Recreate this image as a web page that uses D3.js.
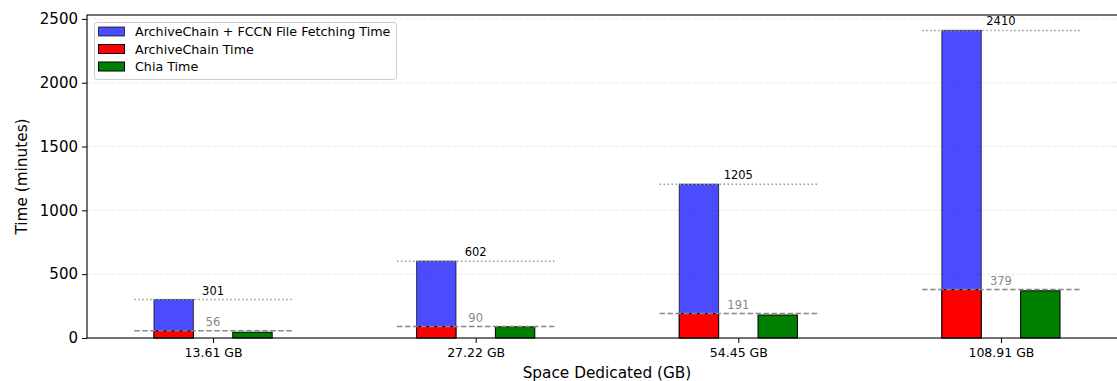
<!DOCTYPE html>
<html><head><meta charset="utf-8">
<script src="https://cdn.jsdelivr.net/npm/d3@7"></script>
<style>body{margin:0;background:#fff}svg{display:block;font-family:"DejaVu Sans",sans-serif}</style>
</head><body><svg id="c" width="1117" height="381"></svg>
<script>
const categories = ["13.61 GB", "27.22 GB", "54.45 GB", "108.91 GB"];
const totalTime = [301, 602, 1205, 2410];
const archiveTime = [56, 90, 191, 379];
const chiaTime = [45, 88, 180, 370];
const yTicks = [0, 500, 1000, 1500, 2000, 2500];
const seriesNames = ["ArchiveChain + FCCN File Fetching Time", "ArchiveChain Time", "Chia Time"];
const seriesColors = ["rgba(0,0,255,0.7)", "#ff0000", "#008000"];

const svg = d3.select("#c");
const L = 87, R = 1127, T = 15, B = 338;
const x = d3.scaleLinear().domain([-0.48, 3.48]).range([L, R]);
const y = d3.scaleLinear().domain([0, 2530.5]).range([B, T]);
const w = 0.15;

// grid
svg.append("g").selectAll("line").data(yTicks.filter(d => d > 0)).join("line")
  .attr("x1", L).attr("x2", R).attr("y1", d => y(d)).attr("y2", d => y(d))
  .attr("stroke", "#e3e3e3").attr("stroke-width", 0.8).attr("stroke-dasharray", "4,2");

const idx = categories.map((c, i) => i);
// blue bars
svg.append("g").selectAll("rect").data(idx).join("rect")
  .attr("x", i => x(i - 1.5 * w)).attr("width", x(w) - x(0))
  .attr("y", i => y(totalTime[i])).attr("height", i => B - y(totalTime[i]))
  .attr("fill", seriesColors[0]).attr("stroke", "rgba(0,0,0,0.7)").attr("stroke-width", 1);
// red bars
svg.append("g").selectAll("rect").data(idx).join("rect")
  .attr("x", i => x(i - 1.5 * w)).attr("width", x(w) - x(0))
  .attr("y", i => y(archiveTime[i])).attr("height", i => B - y(archiveTime[i]))
  .attr("fill", seriesColors[1]).attr("stroke", "#000").attr("stroke-width", 1);
// green bars
svg.append("g").selectAll("rect").data(idx).join("rect")
  .attr("x", i => x(i + 0.5 * w)).attr("width", x(w) - x(0))
  .attr("y", i => y(chiaTime[i])).attr("height", i => B - y(chiaTime[i]))
  .attr("fill", seriesColors[2]).attr("stroke", "#000").attr("stroke-width", 1);

// reference lines
svg.append("g").selectAll("line").data(idx).join("line")
  .attr("x1", i => x(i - 0.3)).attr("x2", i => x(i + 0.3))
  .attr("y1", i => y(totalTime[i])).attr("y2", i => y(totalTime[i]))
  .attr("stroke", "#999").attr("stroke-width", 1.5).attr("stroke-dasharray", "1.5,2.5");
svg.append("g").selectAll("line").data(idx).join("line")
  .attr("x1", i => x(i - 0.3)).attr("x2", i => x(i + 0.3))
  .attr("y1", i => y(archiveTime[i])).attr("y2", i => y(archiveTime[i]))
  .attr("stroke", "#888").attr("stroke-width", 1.5).attr("stroke-dasharray", "5.5,2.5");

// value labels
svg.append("g").selectAll("text").data(idx).join("text")
  .attr("x", i => x(i)).attr("y", i => y(totalTime[i]) - 5)
  .attr("text-anchor", "middle").attr("font-size", 11.5).attr("fill", "#000")
  .text(i => totalTime[i]);
svg.append("g").selectAll("text").data(idx).join("text")
  .attr("x", i => x(i)).attr("y", i => y(archiveTime[i]) - 5)
  .attr("text-anchor", "middle").attr("font-size", 11.5).attr("fill", "#888")
  .text(i => archiveTime[i]);

// axes
const yAxis = svg.append("g").attr("transform", `translate(${L},0)`)
  .call(d3.axisLeft(y).tickValues(yTicks).tickSize(5).tickPadding(4).tickFormat(d3.format("d")));
yAxis.select(".domain").remove();
yAxis.selectAll("text").attr("font-size", 15).attr("fill", "#000").attr("font-family", "DejaVu Sans");
yAxis.selectAll("line").attr("stroke", "#000").attr("stroke-width", 1);

const xAxis = svg.append("g").attr("transform", `translate(0,${B})`)
  .call(d3.axisBottom(x).tickValues(idx).tickSize(5).tickPadding(5).tickFormat(i => categories[i]));
xAxis.select(".domain").remove();
xAxis.selectAll("text").attr("font-size", 12.5).attr("fill", "#000").attr("font-family", "DejaVu Sans");
xAxis.selectAll("line").attr("stroke", "#000").attr("stroke-width", 1);

// spines
svg.append("rect").attr("x", L).attr("y", T).attr("width", R - L).attr("height", B - T)
  .attr("fill", "none").attr("stroke", "#000").attr("stroke-width", 1.1);

// axis labels
svg.append("text").attr("x", (L + R) / 2).attr("y", 378).attr("text-anchor", "middle")
  .attr("font-size", 15.3).text("Space Dedicated (GB)");
svg.append("text").attr("transform", `translate(27,${(T + B) / 2}) rotate(-90)`)
  .attr("text-anchor", "middle").attr("font-size", 15.3).text("Time (minutes)");

// legend
const lg = svg.append("g");
lg.append("rect").attr("x", 94.5).attr("y", 22.5).attr("width", 302).attr("height", 57).attr("rx", 3)
  .attr("fill", "rgba(255,255,255,0.8)").attr("stroke", "#ccc").attr("stroke-width", 1);
const rowsY = [31.5, 49, 66.5];
seriesNames.forEach((n, i) => {
  lg.append("rect").attr("x", 98.5).attr("y", rowsY[i] - 4.5).attr("width", 26).attr("height", 9)
    .attr("fill", seriesColors[i]).attr("stroke", i === 0 ? "rgba(0,0,0,0.7)" : "#000").attr("stroke-width", 1);
  lg.append("text").attr("x", 135).attr("y", rowsY[i] + 4.5).attr("font-size", 12.7).text(n);
});
</script></body></html>
